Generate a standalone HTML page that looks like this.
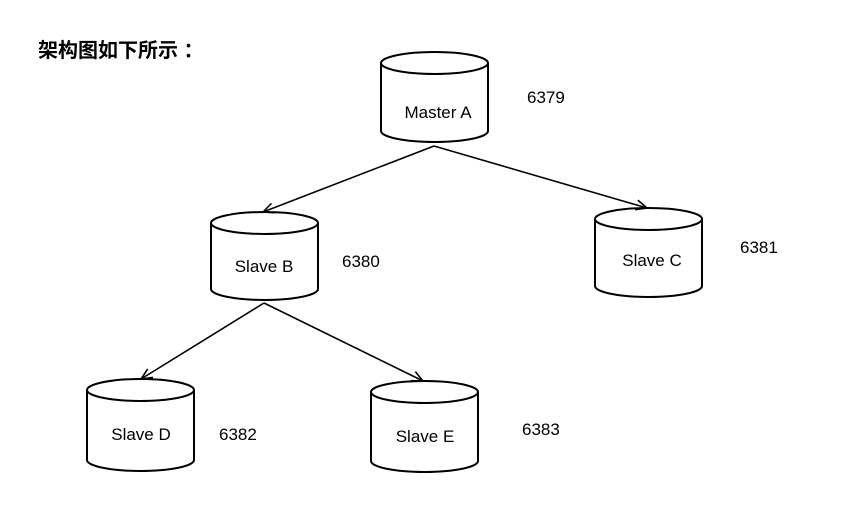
<!DOCTYPE html>
<html><head><meta charset="utf-8"><style>
html,body{margin:0;padding:0;background:#fff;width:853px;height:521px;overflow:hidden}
svg{display:block}
text{font-family:"Liberation Sans","Noto Sans CJK SC",sans-serif;font-size:17px;fill:#000}
</style></head><body>
<svg width="853" height="521" viewBox="0 0 853 521">
<defs>
<marker id="a" markerWidth="14" markerHeight="12" refX="12" refY="6" orient="auto" markerUnits="userSpaceOnUse">
<path d="M1,1 L12,6 L1,11" fill="none" stroke="#000" stroke-width="1.6"/>
</marker>
</defs>
<text x="38" y="57" style="font-family:'Liberation Sans','Noto Sans CJK SC',sans-serif;font-size:20px;font-weight:bold">架构图如下所示 ：</text>
<g fill="#fff" stroke="#000" stroke-width="2">
<path d="M381,63 V131 A53.5,11 0 0 0 488,131 V63"/><ellipse cx="434.5" cy="63" rx="53.5" ry="11"/>
<path d="M211,223 V289 A53.5,11 0 0 0 318,289 V223"/><ellipse cx="264.5" cy="223" rx="53.5" ry="11"/>
<path d="M595,219 V286 A53.5,11 0 0 0 702,286 V219"/><ellipse cx="648.5" cy="219" rx="53.5" ry="11"/>
<path d="M87,390 V460 A53.5,11 0 0 0 194,460 V390"/><ellipse cx="140.5" cy="390" rx="53.5" ry="11"/>
<path d="M371,392 V461 A53.5,11 0 0 0 478,461 V392"/><ellipse cx="424.5" cy="392" rx="53.5" ry="11"/>
</g>
<g stroke="#000" stroke-width="1.6" fill="none">
<line x1="434" y1="146" x2="263" y2="212" marker-end="url(#a)"/>
<line x1="434" y1="146" x2="647" y2="208" marker-end="url(#a)"/>
<line x1="264" y1="303" x2="141" y2="379" marker-end="url(#a)"/>
<line x1="264" y1="303" x2="423" y2="381" marker-end="url(#a)"/>
</g>
<text x="438" y="118" text-anchor="middle">Master A</text>
<text x="264" y="272" text-anchor="middle">Slave B</text>
<text x="652" y="266" text-anchor="middle">Slave C</text>
<text x="141" y="440" text-anchor="middle">Slave D</text>
<text x="425" y="442" text-anchor="middle">Slave E</text>
<text x="527" y="103">6379</text>
<text x="342" y="267">6380</text>
<text x="740" y="253">6381</text>
<text x="219" y="440">6382</text>
<text x="522" y="435">6383</text>
</svg>
</body></html>
